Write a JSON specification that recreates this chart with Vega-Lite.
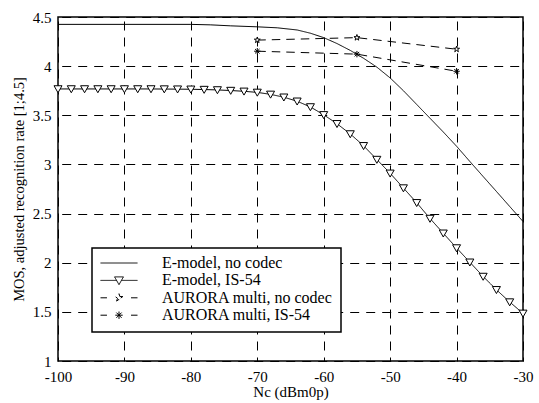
{
  "$schema": "https://vega.github.io/schema/vega-lite/v6.json",
  "width": 465,
  "height": 344,
  "autosize": "none",
  "padding": {"left": 58, "top": 17, "right": 16, "bottom": 42},
  "background": "white",
  "data": {
    "values": [
      {"series": "E-model, no codec", "x": -100, "y": 4.425},
      {"series": "E-model, no codec", "x": -90, "y": 4.425},
      {"series": "E-model, no codec", "x": -80, "y": 4.425},
      {"series": "E-model, no codec", "x": -77, "y": 4.42},
      {"series": "E-model, no codec", "x": -74, "y": 4.41},
      {"series": "E-model, no codec", "x": -70, "y": 4.4},
      {"series": "E-model, no codec", "x": -67, "y": 4.39},
      {"series": "E-model, no codec", "x": -64, "y": 4.368},
      {"series": "E-model, no codec", "x": -62, "y": 4.335},
      {"series": "E-model, no codec", "x": -60, "y": 4.29},
      {"series": "E-model, no codec", "x": -58, "y": 4.23},
      {"series": "E-model, no codec", "x": -56, "y": 4.16},
      {"series": "E-model, no codec", "x": -54, "y": 4.08},
      {"series": "E-model, no codec", "x": -52, "y": 3.99},
      {"series": "E-model, no codec", "x": -50, "y": 3.88},
      {"series": "E-model, no codec", "x": -48, "y": 3.75},
      {"series": "E-model, no codec", "x": -46, "y": 3.61},
      {"series": "E-model, no codec", "x": -44, "y": 3.47},
      {"series": "E-model, no codec", "x": -42, "y": 3.33},
      {"series": "E-model, no codec", "x": -40, "y": 3.185},
      {"series": "E-model, no codec", "x": -38, "y": 3.03},
      {"series": "E-model, no codec", "x": -36, "y": 2.877},
      {"series": "E-model, no codec", "x": -34, "y": 2.725},
      {"series": "E-model, no codec", "x": -32, "y": 2.572},
      {"series": "E-model, no codec", "x": -30, "y": 2.42},
      {"series": "E-model, IS-54", "x": -100, "y": 3.768},
      {"series": "E-model, IS-54", "x": -98, "y": 3.768},
      {"series": "E-model, IS-54", "x": -96, "y": 3.768},
      {"series": "E-model, IS-54", "x": -94, "y": 3.768},
      {"series": "E-model, IS-54", "x": -92, "y": 3.768},
      {"series": "E-model, IS-54", "x": -90, "y": 3.768},
      {"series": "E-model, IS-54", "x": -88, "y": 3.768},
      {"series": "E-model, IS-54", "x": -86, "y": 3.768},
      {"series": "E-model, IS-54", "x": -84, "y": 3.767},
      {"series": "E-model, IS-54", "x": -82, "y": 3.766},
      {"series": "E-model, IS-54", "x": -80, "y": 3.765},
      {"series": "E-model, IS-54", "x": -78, "y": 3.762},
      {"series": "E-model, IS-54", "x": -76, "y": 3.758},
      {"series": "E-model, IS-54", "x": -74, "y": 3.752},
      {"series": "E-model, IS-54", "x": -72, "y": 3.744},
      {"series": "E-model, IS-54", "x": -70, "y": 3.733},
      {"series": "E-model, IS-54", "x": -68, "y": 3.713},
      {"series": "E-model, IS-54", "x": -66, "y": 3.684},
      {"series": "E-model, IS-54", "x": -64, "y": 3.643},
      {"series": "E-model, IS-54", "x": -62, "y": 3.585},
      {"series": "E-model, IS-54", "x": -60, "y": 3.505},
      {"series": "E-model, IS-54", "x": -58, "y": 3.414},
      {"series": "E-model, IS-54", "x": -56, "y": 3.31},
      {"series": "E-model, IS-54", "x": -54, "y": 3.19},
      {"series": "E-model, IS-54", "x": -52, "y": 3.05},
      {"series": "E-model, IS-54", "x": -50, "y": 2.91},
      {"series": "E-model, IS-54", "x": -48, "y": 2.76},
      {"series": "E-model, IS-54", "x": -46, "y": 2.61},
      {"series": "E-model, IS-54", "x": -44, "y": 2.45},
      {"series": "E-model, IS-54", "x": -42, "y": 2.3},
      {"series": "E-model, IS-54", "x": -40, "y": 2.15},
      {"series": "E-model, IS-54", "x": -38, "y": 2.005},
      {"series": "E-model, IS-54", "x": -36, "y": 1.86},
      {"series": "E-model, IS-54", "x": -34, "y": 1.725},
      {"series": "E-model, IS-54", "x": -32, "y": 1.6},
      {"series": "E-model, IS-54", "x": -30, "y": 1.485},
      {"series": "AURORA multi, no codec", "x": -70, "y": 4.265},
      {"series": "AURORA multi, no codec", "x": -55, "y": 4.29},
      {"series": "AURORA multi, no codec", "x": -40, "y": 4.172},
      {"series": "AURORA multi, IS-54", "x": -70, "y": 4.152},
      {"series": "AURORA multi, IS-54", "x": -55, "y": 4.122},
      {"series": "AURORA multi, IS-54", "x": -40, "y": 3.948}
    ]
  },
  "layer": [
    {
      "mark": {"type": "line", "color": "black", "strokeWidth": 1},
      "encoding": {
        "x": {
          "field": "x", "type": "quantitative",
          "scale": {"domain": [-100, -30], "nice": false, "zero": false},
          "axis": {
            "title": "Nc (dBm0p)",
            "values": [-100, -90, -80, -70, -60, -50, -40, -30],
            "labelExpr": "'' + datum.value",
            "labelPadding": 8,
            "titlePadding": 0,
            "gridDashOffset": 12
          }
        },
        "y": {
          "field": "y", "type": "quantitative",
          "scale": {"domain": [1, 4.5], "nice": false, "zero": false},
          "axis": {
            "title": "MOS, adjusted recognition rate [1;4.5]",
            "titleFontSize": 14.5,
            "values": [1, 1.5, 2, 2.5, 3, 3.5, 4, 4.5],
            "labelExpr": "'' + datum.value",
            "labelPadding": 7,
            "titlePadding": 6,
            "gridDashOffset": 12.3
          }
        },
        "strokeDash": {
          "field": "series", "type": "nominal",
          "scale": {
            "domain": ["E-model, no codec", "E-model, IS-54", "AURORA multi, no codec", "AURORA multi, IS-54"],
            "range": [[1, 0], [1, 0], [8.5, 6], [8.5, 6]]
          },
          "legend": {
            "orient": "none",
            "legendX": 34,
            "legendY": 231,
            "title": null,
            "padding": 8,
            "strokeColor": "black",
            "fillColor": "white",
            "symbolSize": 1369,
            "symbolStrokeWidth": 1,
            "symbolStrokeColor": "black",
            "clipHeight": 14,
            "rowPadding": 1.4,
            "labelOffset": 24,
            "symbolOffset": 0,
            "labelFont": "Liberation Serif",
            "labelFontSize": 16,
            "labelColor": "black",
            "labelLimit": 400,
            "encode": {
              "legend": {
                "update": {"strokeWidth": {"value": 1.5}}
              },
              "symbols": {
                "update": {
                  "shape": {"signal": "datum.value === 'E-model, no codec' ? 'M-1,0L1,0' : datum.value === 'E-model, IS-54' ? 'M-1,0L-0.132,0M0.132,0L1,0M-0.24,-0.19L0.24,-0.19L0,0.23Z' : datum.value === 'AURORA multi, no codec' ? 'M-1,0L-0.65,0M0.65,0L1,0M0,-0.22L0.049,-0.068L0.209,-0.068L0.08,0.026L0.129,0.178L0,0.084L-0.129,0.178L-0.08,0.026L-0.209,-0.068L-0.049,-0.068Z' : 'M-1,0L-0.65,0M0.65,0L1,0M0,-0.2L0,0.2M-0.2,0L0.2,0M-0.141,-0.141L0.141,0.141M-0.141,0.141L0.141,-0.141'"},
                  "strokeDash": {"value": [1, 0]},
                  "fill": {"value": "white"},
                  "fillOpacity": {"value": 1},
                  "stroke": {"value": "black"},
                  "strokeOpacity": {"value": 1},
                  "opacity": {"value": 1}
                }
              }
            }
          }
        }
      }
    },
    {
      "transform": [{"filter": "datum.series !== 'E-model, no codec'"}],
      "mark": {"type": "point", "filled": false, "fill": "white", "fillOpacity": 1, "stroke": "black", "strokeWidth": 1, "opacity": 1, "size": 64},
      "encoding": {
        "x": {"field": "x", "type": "quantitative"},
        "y": {"field": "y", "type": "quantitative"},
        "shape": {
          "field": "series", "type": "nominal",
          "scale": {
            "domain": ["E-model, IS-54", "AURORA multi, no codec", "AURORA multi, IS-54"],
            "range": [
              "M-1,-0.8L1,-0.8L0,0.95Z",
              "M0,-0.78L0.174,-0.24L0.742,-0.241L0.282,0.092L0.459,0.631L0,0.296L-0.459,0.631L-0.282,0.092L-0.742,-0.241L-0.174,-0.24Z",
              "M0,-0.8L0,0.8M-0.8,0L0.8,0M-0.566,-0.566L0.566,0.566M-0.566,0.566L0.566,-0.566"
            ]
          },
          "legend": null
        }
      }
    }
  ],
  "config": {
    "font": "Liberation Serif",
    "view": {"stroke": "black", "strokeWidth": 1.5},
    "axis": {
      "labelFont": "Liberation Serif",
      "labelFontSize": 15,
      "labelColor": "black",
      "labelFlush": false,
      "labelOverlap": false,
      "titleFont": "Liberation Serif",
      "titleFontSize": 15,
      "titleFontWeight": "normal",
      "titleColor": "black",
      "grid": true,
      "gridColor": "black",
      "gridDash": [9, 7],
      "gridOpacity": 1,
      "gridWidth": 1,
      "domain": false,
      "ticks": false
    }
  }
}
